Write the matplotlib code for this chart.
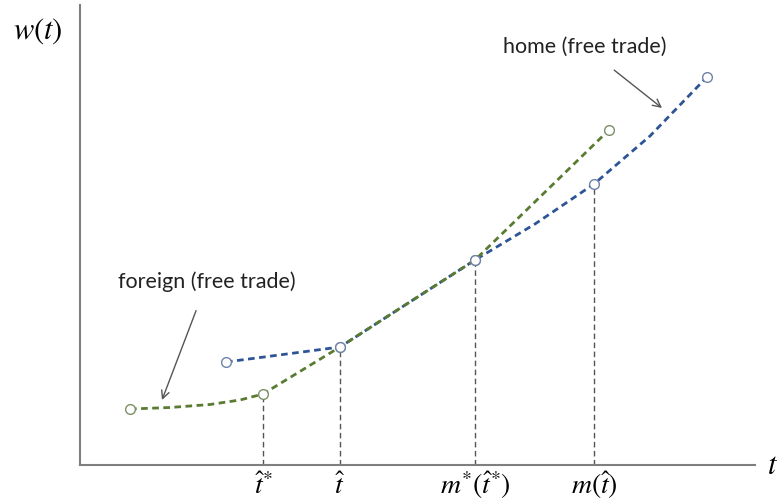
import matplotlib
matplotlib.use("Agg")
import matplotlib.pyplot as plt

plt.rcParams['mathtext.fontset'] = 'stix'

# wage schedules w(t), in axis units measured from the origin
foreign_t = [50, 90, 130, 160, 183, 260, 395, 529]
foreign_w = [56, 57.5, 60.5, 65, 71, 118, 205, 335]
home_t = [146, 260, 395, 455, 514, 570, 627]
home_w = [103, 118, 205, 241, 281, 329, 388]

# open-circle knots on each schedule
foreign_knot_t = [50, 183, 260, 395, 529]
foreign_knot_w = [56, 71, 118, 205, 335]
home_knot_t = [146, 260, 395, 514, 627]
home_knot_w = [103, 118, 205, 281, 388]

# thresholds marked on the t axis
cut_t = [183, 260, 395, 514]
cut_w = [71, 118, 205, 281]
cut_labels = [r'$\hat{t}^{*}$', r'$\hat{t}$', r'$m^{*}(\hat{t}^{*})$', r'$m(\hat{t})$']

green = '#5a7b32'
blue = '#2d5596'
grey = '#7f7f7f'

fig = plt.figure(figsize=(7.82, 5.04), dpi=100)
ax = fig.add_axes([80 / 782, 39 / 504, 675 / 782, 460 / 504])
ax.set_xlim(0, 675)
ax.set_ylim(0, 460)
ax.set_xticks([])
ax.set_yticks([])
for s in ['top', 'right']:
    ax.spines[s].set_visible(False)
for s in ['left', 'bottom']:
    ax.spines[s].set_color(grey)
    ax.spines[s].set_linewidth(1.5)

# dashed guides from each threshold down to the axis
for t, w in zip(cut_t, cut_w):
    ax.plot([t, t], [0, w], color='#555555', lw=1.0, ls=(0, (4, 2.5)), zorder=1)

ax.plot(home_t, home_w, color=blue, lw=2.0, ls=(0, (2.4, 1.6)), zorder=2)
ax.plot(foreign_t, foreign_w, color=green, lw=2.0, ls=(0, (2.4, 1.6)), zorder=3)

ax.plot(foreign_knot_t, foreign_knot_w, 'o', ms=7, mfc='white', mec='#7d8f66', mew=1.0, zorder=4)
ax.plot(home_knot_t, home_knot_w, 'o', ms=7, mfc='white', mec='#6f82a6', mew=1.0, zorder=5)

for t, lab in zip(cut_t, cut_labels):
    ax.text(t, -29, lab, ha='center', va='baseline', fontsize=20)

fig.text(38 / 782, 1 - 31 / 504, r'$w(t)$', ha='center', va='center', fontsize=22)
fig.text(773 / 782, 1 - 465 / 504, r'$t$', ha='center', va='center', fontsize=22)

# curve labels with arrows
ax.annotate('foreign (free trade)', xy=(82, 65), xytext=(127, 183),
            ha='center', va='center', fontsize=15.5, family='Lato', color='#222222',
            arrowprops=dict(arrowstyle='->', color='#555555', lw=1.0,
                            shrinkA=12, shrinkB=0, mutation_scale=14))
ax.annotate('home (free trade)', xy=(582, 357), xytext=(505, 418),
            ha='center', va='center', fontsize=15.5, family='Lato', color='#222222',
            arrowprops=dict(arrowstyle='->', color='#555555', lw=1.0,
                            shrinkA=12, shrinkB=0, mutation_scale=14))

fig.savefig('out.png', dpi=100)
